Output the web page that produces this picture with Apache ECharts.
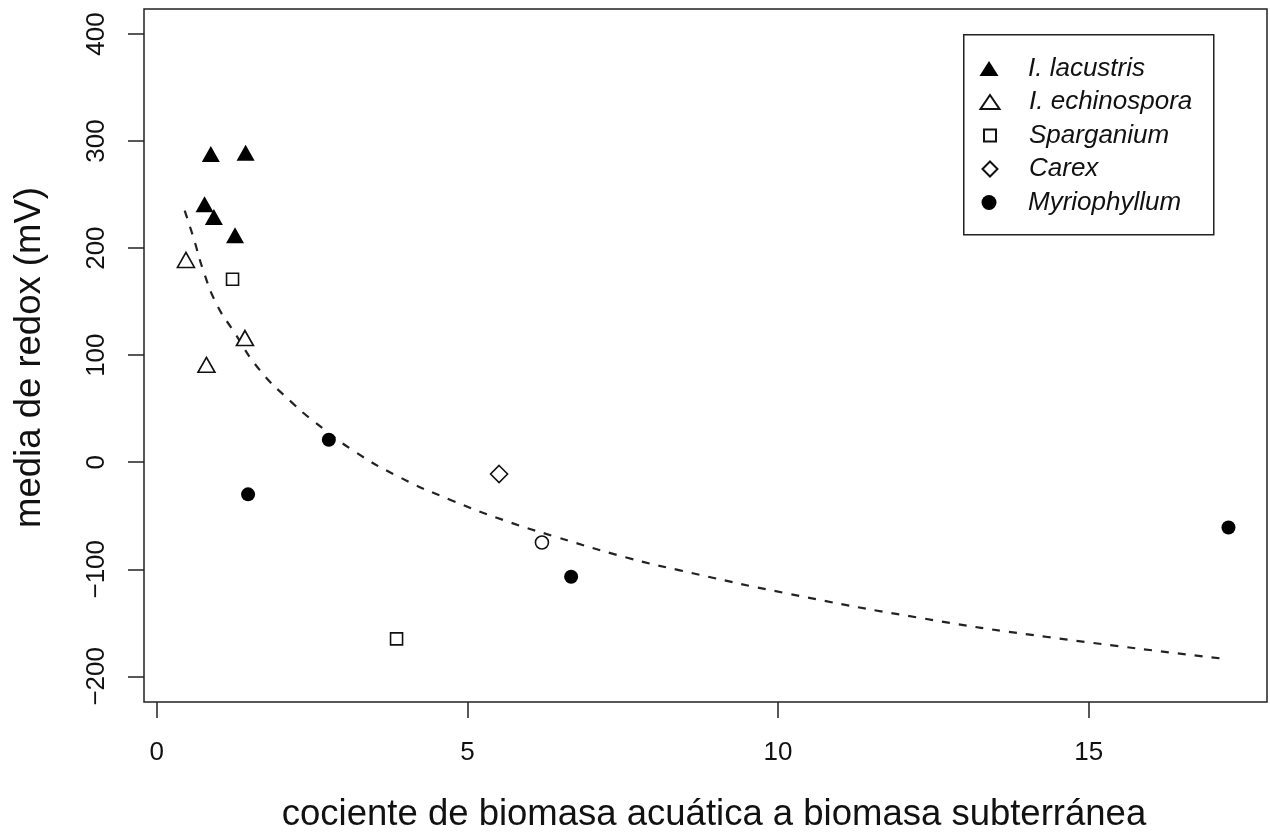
<!DOCTYPE html>
<html>
<head>
<meta charset="utf-8">
<script src="https://cdn.jsdelivr.net/npm/echarts@6/dist/echarts.min.js"></script>
<style>
  html, body { margin: 0; padding: 0; background: #fff; }
  #chart { width: 1270px; height: 834px; }
</style>
</head>
<body>
<div id="chart"></div>
<script>
// datos
var lacustrisX = [0.87, 1.43, 0.77, 0.92, 1.26]
var lacustrisY = [288, 289, 241, 229, 212]
var echinosporaX = [0.47, 1.42, 0.80]
var echinosporaY = [189, 116, 91]
var sparganiumX = [1.22, 3.86]
var sparganiumY = [171, -165]
var carexX = [5.51]
var carexY = [-11]
var otroX = [6.20]
var otroY = [-75]
var myrioX = [2.77, 1.47, 6.67, 17.25]
var myrioY = [21, -30, -107, -61]
// curva ajustada (discontinua)
var curvaX = [0.45, 0.59, 0.75, 0.96, 1.23, 1.66, 2.19, 2.49, 3.16, 3.91, 4.72, 5.58, 6.44, 7.56, 8.42, 10.18, 12.24, 14.3, 17.24]
var curvaY = [235, 210, 179, 148, 123, 86, 55, 40, 11, -14, -35, -54, -70, -89, -101, -123, -145, -163, -184]
// marcas de los ejes
var xTicks = [0, 5, 10, 15]
var yTicks = [-200, -100, 0, 100, 200, 300, 400]
var especies = ['I. lacustris', 'I. echinospora', 'Sparganium', 'Carex', 'Myriophyllum']

function pares (xs, ys) {
  return xs.map(function (x, i) { return [x, ys[i]] })
}

var font = "'Liberation Sans', Arial, Helvetica, sans-serif"

// tamaño del icono de cada fila de la leyenda y su centro vertical
var iconos = [
  { w: 19, h: 15, cy: 67 },
  { w: 19, h: 14, cy: 100.5 },
  { w: 12, h: 12, cy: 134 },
  { w: 15, h: 15, cy: 167.5 },
  { w: 15, h: 15, cy: 201 }
]
var leyendas = especies.map(function (nombre, i) {
  var ic = iconos[i]
  return {
    data: [nombre],
    orient: 'vertical',
    left: 989 - ic.w / 2,
    top: ic.cy - 11.5,
    padding: 0,
    itemWidth: ic.w,
    itemHeight: ic.h,
    selectedMode: false,
    z: 10,
    textStyle: {
      fontFamily: font,
      fontStyle: 'italic',
      fontSize: 26,
      color: '#111',
      padding: [0, 0, 0, 34 - ic.w / 2]
    }
  }
})

var chart = echarts.init(document.getElementById('chart'))

chart.setOption({
  animation: false,
  backgroundColor: '#fff',
  grid: {
    left: 144,
    top: 9,
    right: 3,
    bottom: 132,
    outerBoundsMode: 'none',
    show: true,
    borderColor: '#222',
    borderWidth: 1.5
  },
  graphic: [{
    type: 'rect',
    left: 963,
    top: 34,
    shape: { width: 250, height: 200 },
    style: { fill: '#fff', stroke: '#222', lineWidth: 1.5 },
    z: 5
  }],
  legend: leyendas,
  xAxis: {
    type: 'value',
    min: -0.205,
    max: 17.87,
    splitLine: { show: false },
    axisLine: { show: false, onZero: false },
    axisTick: { show: true, inside: false, length: 16, customValues: xTicks, lineStyle: { color: '#222', width: 1.5 } },
    axisLabel: { customValues: xTicks, margin: 38, fontSize: 26, fontFamily: font, color: '#111' },
    name: 'cociente de biomasa acuática a biomasa subterránea',
    nameLocation: 'middle',
    nameGap: 94,
    nameTextStyle: { fontSize: 36.5, fontFamily: font, color: '#111', padding: [0, 0, 0, 17] }
  },
  yAxis: {
    type: 'value',
    min: -224,
    max: 423.4,
    splitLine: { show: false },
    axisLine: { show: false, onZero: false },
    axisTick: { show: true, inside: false, length: 16, customValues: yTicks, lineStyle: { color: '#222', width: 1.5 } },
    axisLabel: {
      customValues: yTicks,
      rotate: 90,
      margin: 34,
      fontSize: 26,
      fontFamily: font,
      color: '#111',
      formatter: function (v) { return v < 0 ? '\u2212' + Math.abs(v) : String(v) }
    },
    name: 'media de redox (mV)',
    nameLocation: 'middle',
    nameGap: 96,
    nameTextStyle: { fontSize: 36.5, fontFamily: font, color: '#111', padding: [0, 4, 0, 0] }
  },
  series: [
    {
      name: 'curva',
      type: 'line',
      data: pares(curvaX, curvaY),
      smooth: true,
      showSymbol: false,
      symbol: 'none',
      lineStyle: { color: '#222', width: 2.2, type: [8, 9] },
      z: 1
    },
    {
      name: 'I. lacustris',
      type: 'scatter',
      symbol: 'triangle',
      symbolSize: [18, 16],
      data: pares(lacustrisX, lacustrisY),
      itemStyle: { color: '#000', opacity: 1 }
    },
    {
      name: 'I. echinospora',
      type: 'scatter',
      symbol: 'triangle',
      symbolSize: [17, 15],
      data: pares(echinosporaX, echinosporaY),
      itemStyle: { color: '#fff', borderColor: '#111', borderWidth: 1.6, opacity: 1 }
    },
    {
      name: 'Sparganium',
      type: 'scatter',
      symbol: 'rect',
      symbolSize: 12,
      data: pares(sparganiumX, sparganiumY),
      itemStyle: { color: '#fff', borderColor: '#111', borderWidth: 1.6, opacity: 1 }
    },
    {
      name: 'Carex',
      type: 'scatter',
      symbol: 'diamond',
      symbolSize: 17,
      data: pares(carexX, carexY),
      itemStyle: { color: '#fff', borderColor: '#111', borderWidth: 1.6, opacity: 1 }
    },
    {
      name: 'otro',
      type: 'scatter',
      symbol: 'circle',
      symbolSize: 13,
      data: pares(otroX, otroY),
      itemStyle: { color: '#fff', borderColor: '#111', borderWidth: 1.6, opacity: 1 }
    },
    {
      name: 'Myriophyllum',
      type: 'scatter',
      symbol: 'circle',
      symbolSize: 14,
      data: pares(myrioX, myrioY),
      itemStyle: { color: '#000', opacity: 1 }
    }
  ]
})
</script>
</body>
</html>
